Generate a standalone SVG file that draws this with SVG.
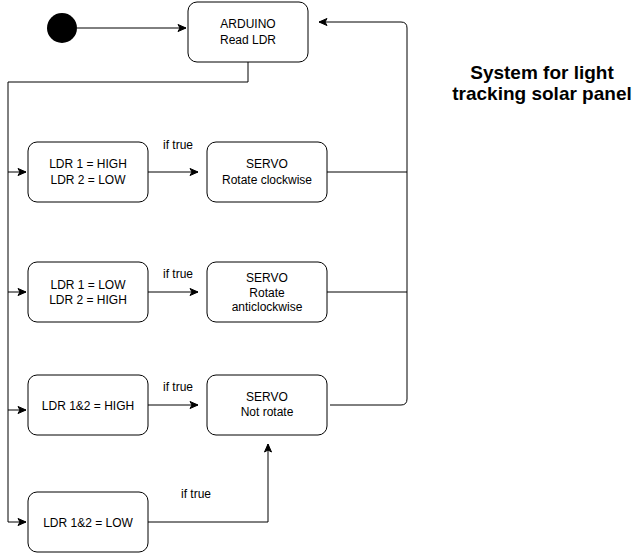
<svg xmlns="http://www.w3.org/2000/svg" width="638" height="553" viewBox="0 0 638 553">
<style>
.box{fill:#fff;stroke:#000;stroke-width:1}
.t{font-family:"Liberation Sans",Arial,sans-serif;font-size:12px;fill:#000;text-anchor:middle}
.c{fill:none;stroke:#000;stroke-width:1}
.title{font-family:"Liberation Sans",Arial,sans-serif;font-size:19px;font-weight:bold;fill:#000;text-anchor:middle}
</style>
<defs>
<marker id="a" markerWidth="10" markerHeight="10" refX="9" refY="5" orient="auto" markerUnits="userSpaceOnUse">
<path d="M1,1.5 L9,5 L1,8.5 L3,5 z" fill="#000" stroke="#000" stroke-width="1"/>
</marker>
</defs>
<rect width="638" height="553" fill="#fff"/>
<g id="connectors">
<path class="c" d="M77,28 H186" marker-end="url(#a)"/>
<path class="c" d="M248,62 V82 H8 V522"/>
<path class="c" d="M8,172 H26" marker-end="url(#a)"/>
<path class="c" d="M8,292 H26" marker-end="url(#a)"/>
<path class="c" d="M8,410 H26" marker-end="url(#a)"/>
<path class="c" d="M8,522 H26" marker-end="url(#a)"/>
<path class="c" d="M148,172 H198" marker-end="url(#a)"/>
<path class="c" d="M148,292 H198" marker-end="url(#a)"/>
<path class="c" d="M148,405 H198" marker-end="url(#a)"/>
<path class="c" d="M148,522 H268 V444" marker-end="url(#a)"/>
<path class="c" d="M327,172 H407"/>
<path class="c" d="M327,292 H407"/>
<path class="c" d="M330,405 H401 Q407,405 407,399 V28 Q407,22 401,22 H319" marker-end="url(#a)"/>
<text class="t" x="178" y="149">if true</text>
<text class="t" x="178" y="278">if true</text>
<text class="t" x="178" y="391">if true</text>
<text class="t" x="196" y="498">if true</text>
</g>
<g id="start"><circle cx="62" cy="28" r="15" fill="#000"/></g>
<g id="arduino"><rect class="box" x="188" y="2" width="120" height="60" rx="9"/>
<text class="t" x="248" y="28">ARDUINO</text><text class="t" x="248" y="44">Read LDR</text></g>
<g id="ldr1"><rect class="box" x="28" y="142" width="120" height="60" rx="9"/>
<text class="t" x="88" y="168">LDR 1 = HIGH</text><text class="t" x="88" y="184">LDR 2 = LOW</text></g>
<g id="servo1"><rect class="box" x="207" y="142" width="120" height="60" rx="9"/>
<text class="t" x="267" y="168">SERVO</text><text class="t" x="267" y="184">Rotate clockwise</text></g>
<g id="ldr2"><rect class="box" x="28" y="262" width="120" height="60" rx="9"/>
<text class="t" x="88" y="289">LDR 1 = LOW</text><text class="t" x="88" y="304">LDR 2 = HIGH</text></g>
<g id="servo2"><rect class="box" x="207" y="262" width="120" height="60" rx="9"/>
<text class="t" x="267" y="282">SERVO</text><text class="t" x="267" y="297">Rotate</text><text class="t" x="267" y="311">anticlockwise</text></g>
<g id="ldr3"><rect class="box" x="28" y="375" width="120" height="60" rx="9"/>
<text class="t" x="88" y="410">LDR 1&amp;2 = HIGH</text></g>
<g id="servo3"><rect class="box" x="207" y="375" width="120" height="60" rx="9"/>
<text class="t" x="267" y="401">SERVO</text><text class="t" x="267" y="416">Not rotate</text></g>
<g id="ldr4"><rect class="box" x="28" y="492" width="120" height="60" rx="9"/>
<text class="t" x="88" y="527">LDR 1&amp;2 = LOW</text></g>
<g id="title"><text class="title" x="542" y="79">System for light</text><text class="title" x="542" y="100">tracking solar panel</text></g>
</svg>
